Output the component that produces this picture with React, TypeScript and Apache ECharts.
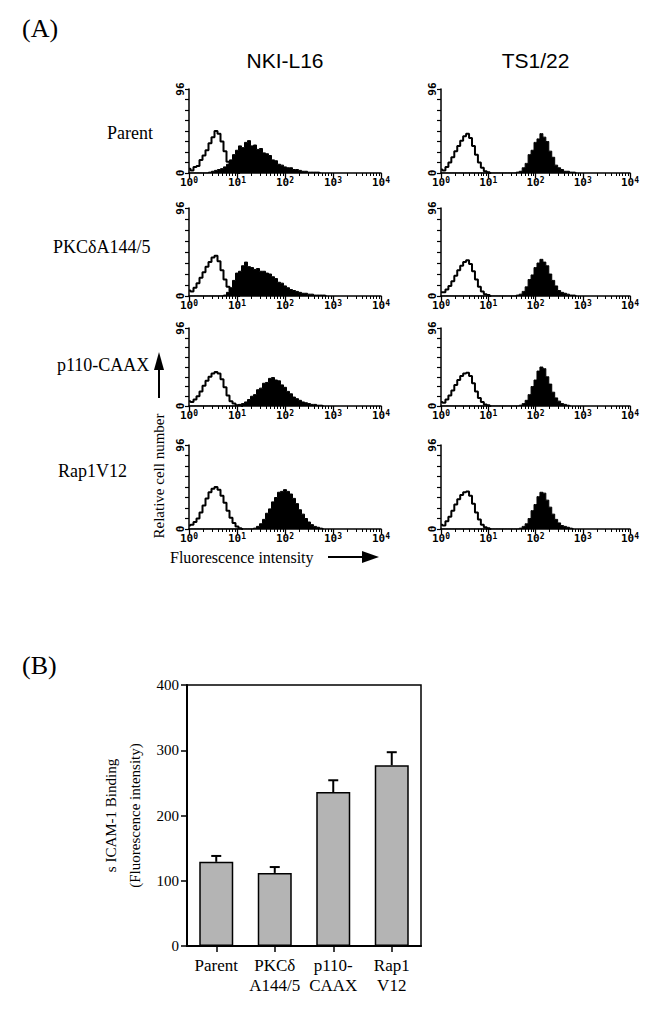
import React, { useEffect, useRef } from 'react';
import * as echarts from 'echarts';

// ---------- DATA ----------
const BINS_PER_DECADE = 16;
const DECADE_EXPONENTS = ['0', '1', '2', '3', '4'];
const HIST_Y_MAX = 96;
const ROW_LABELS = ['Parent', 'PKCδA144/5', 'p110-CAAX', 'Rap1V12'];
const COLUMN_TITLES = ['NKI-L16', 'TS1/22'];

// control (open) histograms, channel bins of 1/16 decade starting at 10^0
const NKI_PARENT_CTRL = [5, 3, 7, 8, 15, 20, 26, 34, 41, 48, 45, 36, 25, 13, 7, 2, 1, 0];
const TS_PARENT_CTRL = [4, 3, 7, 12, 18, 25, 31, 37, 42, 45, 40, 31, 21, 12, 6, 2, 1, 0];
const NKI_PKC_CTRL = [6, 5, 9, 14, 20, 26, 32, 37, 42, 44, 38, 28, 18, 10, 5, 2, 1, 0];
const TS_PKC_CTRL = [4, 4, 7, 11, 16, 22, 28, 33, 37, 39, 35, 27, 18, 10, 5, 2, 1, 0];
const NKI_P110_CTRL = [6, 5, 8, 12, 18, 25, 31, 36, 40, 42, 40, 33, 23, 13, 6, 3, 1, 1, 0];
const TS_P110_CTRL = [5, 4, 8, 13, 19, 26, 32, 37, 40, 41, 37, 28, 18, 10, 5, 2, 1, 0];
const NKI_RAP1_CTRL = [4, 5, 8, 12, 19, 27, 35, 42, 46, 48, 45, 38, 30, 21, 13, 7, 3, 1, 0];
const TS_RAP1_CTRL = [5, 4, 9, 14, 21, 28, 34, 39, 42, 43, 38, 29, 19, 11, 5, 2, 1, 0];

// stained (filled) histograms
const NKI_PARENT_STAIN = [
  0, 0, 0, 0, 0, 0, 0, 1, 2, 3,
  4, 5, 7, 10, 15, 21, 26, 31, 29, 35,
  37, 31, 32, 27, 28, 23, 22, 20, 15, 14,
  10, 9, 7, 6, 6, 4, 4, 3, 2, 2,
  1, 1, 1, 1, 0,
];
const TS_PARENT_STAIN = [
  0, 0, 0, 0, 0, 0, 0, 0, 0, 0,
  0, 0, 0, 0, 0, 0, 0, 0, 0, 0,
  0, 0, 0, 0, 0, 0, 1, 2, 6, 11,
  21, 26, 35, 39, 45, 41, 36, 25, 18, 9,
  6, 4, 2, 2, 1, 1, 0,
];
const NKI_PKC_STAIN = [
  0, 0, 0, 0, 0, 0, 0, 0, 0, 0,
  0, 0, 1, 4, 9, 17, 25, 27, 33, 37,
  32, 31, 29, 30, 27, 27, 25, 24, 21, 19,
  15, 14, 11, 9, 7, 6, 5, 4, 3, 3,
  2, 2, 1, 1, 1, 1, 0,
];
const TS_PKC_STAIN = [
  0, 0, 0, 0, 0, 0, 0, 0, 0, 0,
  0, 0, 0, 0, 0, 0, 0, 0, 0, 0,
  0, 0, 0, 0, 0, 0, 1, 2, 5, 10,
  18, 23, 31, 36, 40, 37, 33, 24, 17, 11,
  6, 4, 3, 2, 1, 1, 0,
];
const NKI_P110_STAIN = [
  0, 0, 0, 0, 0, 0, 0, 0, 0, 0,
  0, 0, 0, 0, 0, 0, 1, 2, 3, 5,
  8, 12, 14, 20, 22, 28, 29, 34, 35, 32,
  31, 26, 23, 18, 15, 11, 9, 7, 5, 4,
  3, 2, 2, 1, 1, 0,
];
const TS_P110_STAIN = [
  0, 0, 0, 0, 0, 0, 0, 0, 0, 0,
  0, 0, 0, 0, 0, 0, 0, 0, 0, 0,
  0, 0, 0, 0, 0, 0, 0, 1, 3, 7,
  14, 24, 32, 43, 48, 46, 36, 27, 17, 10,
  6, 3, 2, 1, 0,
];
const NKI_RAP1_STAIN = [
  0, 0, 0, 0, 0, 0, 0, 0, 0, 0,
  0, 0, 0, 0, 0, 0, 0, 0, 0, 0,
  0, 0, 1, 3, 6, 11, 18, 23, 31, 36,
  42, 43, 45, 43, 40, 35, 29, 22, 17, 12,
  8, 5, 3, 2, 1, 0,
];
const TS_RAP1_STAIN = [
  0, 0, 0, 0, 0, 0, 0, 0, 0, 0,
  0, 0, 0, 0, 0, 0, 0, 0, 0, 0,
  0, 0, 0, 0, 0, 0, 0, 1, 3, 6,
  12, 21, 28, 37, 42, 41, 33, 25, 17, 11,
  7, 4, 3, 2, 1, 0,
];

const PANELS = [
  [NKI_PARENT_CTRL, NKI_PARENT_STAIN], [TS_PARENT_CTRL, TS_PARENT_STAIN],
  [NKI_PKC_CTRL, NKI_PKC_STAIN], [TS_PKC_CTRL, TS_PKC_STAIN],
  [NKI_P110_CTRL, NKI_P110_STAIN], [TS_P110_CTRL, TS_P110_STAIN],
  [NKI_RAP1_CTRL, NKI_RAP1_STAIN], [TS_RAP1_CTRL, TS_RAP1_STAIN],
];

const BAR_CATEGORIES = ['Parent', 'PKCδ\nA144/5', 'p110-\nCAAX', 'Rap1\nV12'];
const BAR_VALUES = [129, 112, 236, 277];
const BAR_ERRORS = [9, 9, 18, 20];
const BAR_Y_MAX = 400;
const BAR_Y_INTERVAL = 100;

// ---------- LAYOUT ----------
const COL_LEFT = [189, 441];
const COL_WIDTH = [192, 189];
const ROW_TOP = [89, 208, 328, 445];
const ROW_HEIGHT = [84, 88, 78, 84];

const SERIF = 'Liberation Serif';
const SANS = 'Liberation Sans';
const MONO = 'DejaVu Sans Mono';

const MINOR_TICKS: number[] = [];
for (let d = 0; d < 4; d++) for (let k = 2; k <= 9; k++) MINOR_TICKS.push(Math.log10(k * Math.pow(10, d)));

function buildOption() {
  const grid: any[] = [];
  const xAxis: any[] = [];
  const yAxis: any[] = [];
  const series: any[] = [];

  PANELS.forEach(([ctrl, stain], gi) => {
    const r = Math.floor(gi / 2);
    const c = gi % 2;
    grid.push({ left: COL_LEFT[c], top: ROW_TOP[r], width: COL_WIDTH[c], height: ROW_HEIGHT[r] });
    xAxis.push({
      gridIndex: gi, type: 'value', min: 0, max: 4, interval: 1, position: 'bottom',
      axisLine: { show: true, onZero: false, lineStyle: { color: '#000', width: 1.5 } },
      axisTick: { show: true, length: 5, lineStyle: { color: '#000', width: 1.3 } },
      axisLabel: {
        formatter: (v: number) => `{b|10}{s|${DECADE_EXPONENTS[Math.round(v)] ?? ''}}`,
        margin: 3,
        rich: {
          b: { fontFamily: MONO, fontSize: 11, fontWeight: 'bold', color: '#000', verticalAlign: 'bottom' },
          s: { fontFamily: MONO, fontSize: 8, fontWeight: 'bold', color: '#000', verticalAlign: 'top', padding: [0, 0, 4, 0] },
        },
      },
      splitLine: { show: false },
    });
    xAxis.push({
      gridIndex: gi, type: 'value', min: 0, max: 4, position: 'bottom',
      axisLine: { show: false, onZero: false },
      axisTick: { show: true, length: 3, customValues: MINOR_TICKS, lineStyle: { color: '#000', width: 1 } },
      axisLabel: { show: false },
      splitLine: { show: false },
    });
    yAxis.push({
      gridIndex: gi, type: 'value', min: 0, max: HIST_Y_MAX, interval: 12,
      axisLine: { show: true, onZero: false, lineStyle: { color: '#000', width: 1.5 } },
      axisTick: { show: true, length: 4, lineStyle: { color: '#000', width: 1.2 } },
      axisLabel: {
        formatter: (v: number) => (v === 0 || v === HIST_Y_MAX ? String(v) : ''),
        rotate: 90, fontFamily: MONO, fontSize: 11, fontWeight: 'bold', color: '#000', margin: 3,
      },
      splitLine: { show: false },
    });
    series.push({
      type: 'line', xAxisIndex: gi * 2, yAxisIndex: gi, step: 'middle', symbol: 'none',
      data: stain.map((v, i) => [i / BINS_PER_DECADE, v]),
      lineStyle: { color: '#000', width: 1 },
      areaStyle: { color: '#000', opacity: 1 },
      z: 2,
    });
    series.push({
      type: 'line', xAxisIndex: gi * 2, yAxisIndex: gi, step: 'middle', symbol: 'none',
      data: ctrl.map((v, i) => [i / BINS_PER_DECADE, v]),
      lineStyle: { color: '#000', width: 2 },
      z: 3,
    });
  });

  // bar chart (panel B)
  const bgi = PANELS.length;
  grid.push({ left: 187, top: 685, width: 234, height: 261, show: true, borderColor: '#000', borderWidth: 1.5 });
  const barX = xAxis.length;
  xAxis.push({
    gridIndex: bgi, type: 'category', data: BAR_CATEGORIES,
    axisLine: { show: true, lineStyle: { color: '#000', width: 2 } },
    axisTick: { show: true, alignWithLabel: true, length: 6, lineStyle: { color: '#000', width: 1.5 } },
    axisLabel: { interval: 0, fontFamily: SERIF, fontSize: 17, color: '#000', lineHeight: 20, margin: 9 },
  });
  const barY = yAxis.length;
  yAxis.push({
    gridIndex: bgi, type: 'value', min: 0, max: BAR_Y_MAX, interval: BAR_Y_INTERVAL,
    axisLine: { show: true, lineStyle: { color: '#000', width: 2 } },
    axisTick: { show: true, length: 6, lineStyle: { color: '#000', width: 1.5 } },
    axisLabel: { fontFamily: SERIF, fontSize: 15, color: '#000', margin: 8 },
    splitLine: { show: false },
    name: 's ICAM-1 Binding\n(Fluorescence intensity)',
    nameLocation: 'middle', nameRotate: 90, nameGap: 40,
    nameTextStyle: { fontFamily: SERIF, fontSize: 15, color: '#000', lineHeight: 24 },
  });
  series.push({
    type: 'bar', xAxisIndex: barX, yAxisIndex: barY, data: BAR_VALUES, barWidth: 34,
    itemStyle: { color: '#b4b4b4', borderColor: '#000', borderWidth: 1.5 },
  });
  series.push({
    type: 'custom', xAxisIndex: barX, yAxisIndex: barY,
    data: BAR_VALUES.map((v, i) => [i, v, v + BAR_ERRORS[i]]),
    encode: { x: 0, y: [1, 2] },
    renderItem: (_p: any, api: any) => {
      const base = api.coord([api.value(0), api.value(1)]);
      const top = api.coord([api.value(0), api.value(2)]);
      return {
        type: 'group',
        children: [
          { type: 'line', shape: { x1: base[0], y1: base[1], x2: base[0], y2: top[1] }, style: { stroke: '#000', lineWidth: 2 } },
          { type: 'line', shape: { x1: base[0] - 5, y1: top[1], x2: base[0] + 5, y2: top[1] }, style: { stroke: '#000', lineWidth: 2 } },
        ],
      };
    },
    z: 5,
  });

  const rowLabelX = [107, 53, 57, 58];
  const rowLabelY = [133, 247, 365, 471];
  const graphic: any[] = [
    { type: 'text', x: 22, y: 28, style: { text: '(A)', font: `26px "${SERIF}"`, fill: '#000', verticalAlign: 'middle' } },
    { type: 'text', x: 22, y: 665, style: { text: '(B)', font: `26px "${SERIF}"`, fill: '#000', verticalAlign: 'middle' } },
    ...COLUMN_TITLES.map((t, c) => ({
      type: 'text', x: COL_LEFT[c] + COL_WIDTH[c] / 2, y: 60,
      style: { text: t, font: `21px "${SANS}"`, fill: '#000', align: 'center', verticalAlign: 'middle' },
    })),
    ...ROW_LABELS.map((t, r) => ({
      type: 'text', x: rowLabelX[r], y: rowLabelY[r],
      style: { text: t, font: `18px "${SERIF}"`, fill: '#000', align: 'left', verticalAlign: 'middle' },
    })),
    {
      type: 'text', x: 159, y: 476, rotation: Math.PI / 2,
      style: { text: 'Relative cell number', font: `15px "${SERIF}"`, fill: '#000', align: 'center', verticalAlign: 'middle' },
    },
    { type: 'line', shape: { x1: 159, y1: 398, x2: 159, y2: 366 }, style: { stroke: '#000', lineWidth: 2 } },
    { type: 'polygon', shape: { points: [[154, 370], [164, 370], [159, 352]] }, style: { fill: '#000' } },
    {
      type: 'text', x: 170, y: 557,
      style: { text: 'Fluorescence intensity', font: `16px "${SERIF}"`, fill: '#000', align: 'left', verticalAlign: 'middle' },
    },
    { type: 'line', shape: { x1: 328, y1: 557, x2: 365, y2: 557 }, style: { stroke: '#000', lineWidth: 2 } },
    { type: 'polygon', shape: { points: [[362, 551], [362, 563], [379, 557]] }, style: { fill: '#000' } },
  ];

  return { animation: false, backgroundColor: '#fff', grid, xAxis, yAxis, series, graphic };
}

export default function App() {
  const ref = useRef<HTMLDivElement>(null);
  useEffect(() => {
    if (!ref.current) return;
    const chart = echarts.init(ref.current, null, { renderer: 'svg' });
    chart.setOption(buildOption() as any);
    return () => chart.dispose();
  }, []);
  return (
    <div
      ref={ref}
      style={{ position: 'absolute', left: 0, top: 0, width: 658, height: 1011, background: '#fff' }}
    />
  );
}
